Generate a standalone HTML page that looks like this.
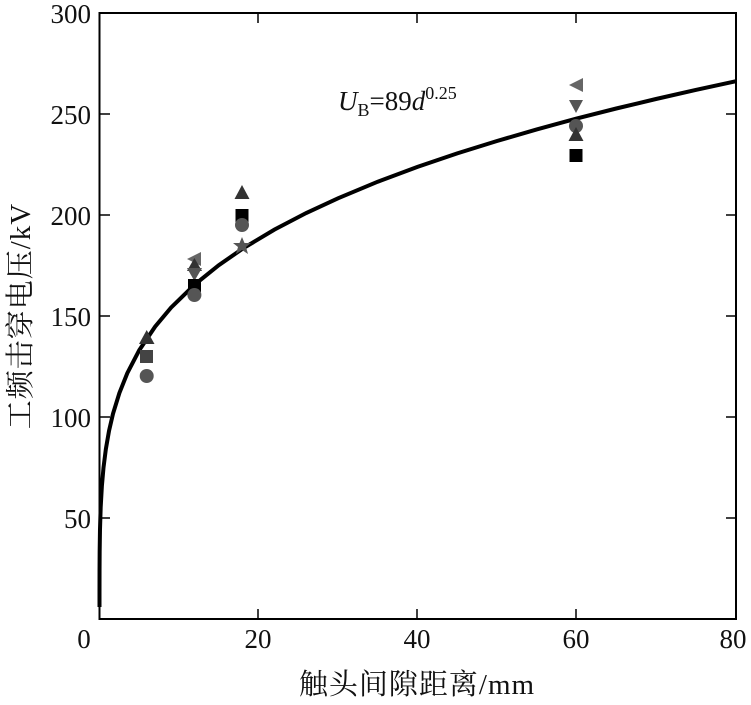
<!DOCTYPE html>
<html><head><meta charset="utf-8"><style>
html,body{margin:0;padding:0;background:#fff;}
svg{display:block;}
text{font-family:"Liberation Serif","Noto Serif CJK SC",serif;fill:#111;}
</style></head><body>
<svg width="751" height="705" viewBox="0 0 751 705">
<rect x="99.5" y="13" width="636.5" height="606" fill="none" stroke="#000" stroke-width="2"/>
<g stroke="#000" stroke-width="1.5">
<line x1="99.5" y1="114" x2="110" y2="114"/><line x1="99.5" y1="215" x2="110" y2="215"/><line x1="99.5" y1="316" x2="110" y2="316"/><line x1="99.5" y1="417" x2="110" y2="417"/><line x1="99.5" y1="518" x2="110" y2="518"/>
<line x1="736" y1="114" x2="726" y2="114"/><line x1="736" y1="215" x2="726" y2="215"/><line x1="736" y1="316" x2="726" y2="316"/><line x1="736" y1="417" x2="726" y2="417"/><line x1="736" y1="518" x2="726" y2="518"/>
<line x1="258" y1="619" x2="258" y2="609"/><line x1="417" y1="619" x2="417" y2="609"/><line x1="576" y1="619" x2="576" y2="609"/>
<line x1="258" y1="13" x2="258" y2="23"/><line x1="417" y1="13" x2="417" y2="23"/><line x1="576" y1="13" x2="576" y2="23"/>
</g>
<g font-size="27" text-anchor="end">
<text x="91" y="23">300</text><text x="91" y="124">250</text><text x="91" y="225">200</text><text x="91" y="326">150</text><text x="91" y="427">100</text><text x="91" y="528">50</text>
</g>
<g font-size="27" text-anchor="middle">
<text x="84" y="648">0</text><text x="258" y="648">20</text><text x="417" y="648">40</text><text x="576" y="648">60</text><text x="733" y="648">80</text>
</g>
<text x="417" y="694" font-size="29" text-anchor="middle" letter-spacing="1">触头间隙距离/mm</text>
<text transform="translate(30,316) rotate(-90)" font-size="29" text-anchor="middle" letter-spacing="1">工频击穿电压/kV</text>
<text x="338" y="110" font-size="27"><tspan font-style="italic">U</tspan><tspan font-size="18" dy="6">B</tspan><tspan dy="-6">=89</tspan><tspan font-style="italic">d</tspan><tspan font-size="18" dy="-11">0.25</tspan></text>
<path fill="none" stroke="#000" stroke-width="4" d="M99.5,607 L99.5,592.1 L99.54,571.2 L99.66,551.4 L99.98,530 L100.69,507.1 L101.89,485.9 L103.48,467.8 L105.86,449 L109.04,430.8 L113.02,413.7 L119.38,393 L127.33,373.1 L139.25,350.2 L155.15,326.6 L171.05,307.6 L194.9,284.4 L218.75,265.2 L242.6,248.7 L274.4,229.6 L306.2,213 L338,198.3 L377.75,181.7 L417.5,166.9 L457.25,153.4 L497,141 L536.75,129.4 L576.5,118.6 L616.25,108.5 L656,99 L695.75,89.9 L735.5,81.3"/>
<g>
<polygon points="146.7,330 139,344 154.5,344" fill="#333"/>
<rect x="140" y="350" width="13" height="13" fill="#444"/>
<circle cx="146.7" cy="376" r="7" fill="#555"/>
<polygon points="187,259 201,252 201,266" fill="#666"/>
<polygon points="194.4,258 187,271 202,271" fill="#333"/>
<polygon points="187,268 202,268 194.4,281" fill="#555"/>
<rect x="188" y="279" width="13" height="13" fill="#000"/>
<circle cx="194.4" cy="295" r="7" fill="#555"/>
<polygon points="242,185 234.5,199 249.5,199" fill="#333"/>
<rect x="235.5" y="209" width="13" height="13" fill="#000"/>
<circle cx="242" cy="225" r="7" fill="#555"/>
<polygon points="242,237 244.5,243 251,243 246,247 248,254 242,250 236,254 238,247 233,243 239.5,243" fill="#555"/>
<polygon points="569,85 583,78 583,92" fill="#666"/>
<polygon points="569,100 583,100 576,113" fill="#555"/>
<circle cx="576" cy="126" r="7" fill="#555"/>
<polygon points="576,127 568.5,141 583.5,141" fill="#333"/>
<rect x="569.5" y="149" width="13" height="13" fill="#000"/>
</g>
</svg>
</body></html>
